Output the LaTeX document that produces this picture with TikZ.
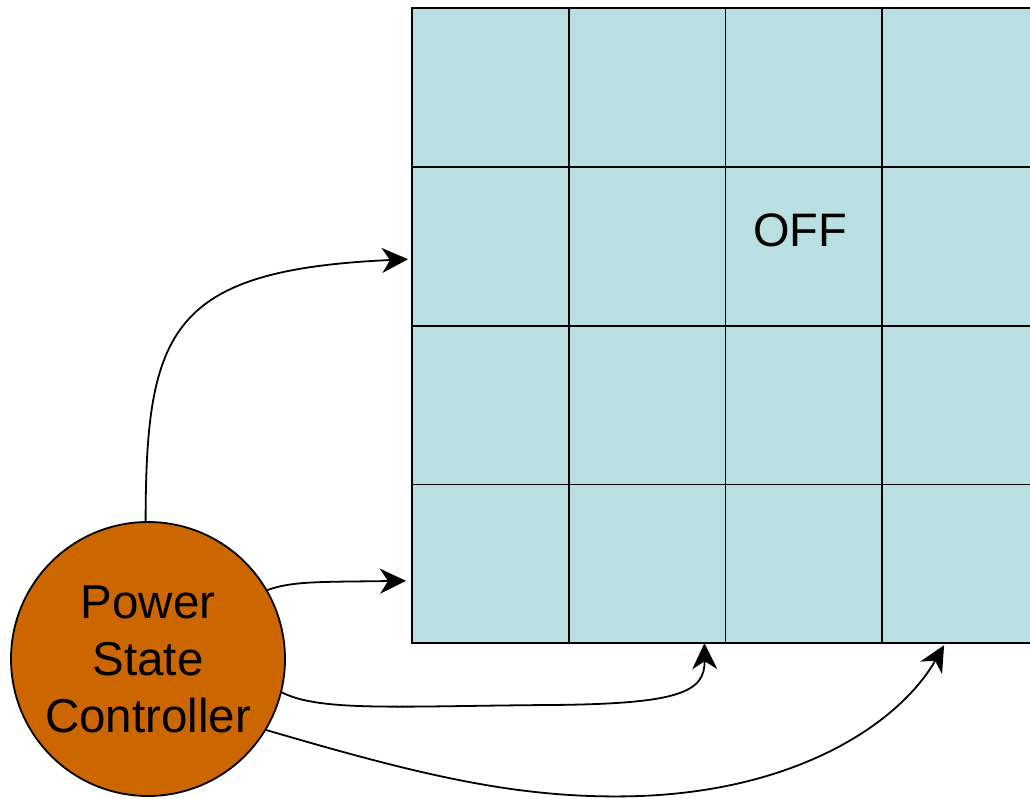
\documentclass[tikz,border=0pt]{standalone}
\usepackage{fontspec}
\setmainfont{Liberation Sans}
\usetikzlibrary{arrows.meta,calc}
\definecolor{cellfill}{HTML}{BADFE3}
\definecolor{ctrlfill}{HTML}{CC6600}
\begin{document}
\begin{tikzpicture}[x=1pt,y=-1pt,
  cell/.style={draw=black,fill=cellfill,line width=1.8pt,rectangle,
    inner sep=0pt,outer sep=0pt,minimum width=156.7pt,minimum height=158.8pt},
  ctrl/.style={draw=black,fill=ctrlfill,line width=1.8pt,circle,
    inner sep=0pt,minimum size=274pt,align=center,
    font=\fontsize{47.5}{57}\selectfont},
  link/.style={draw=black,line width=1.8pt,
    -{Stealth[length=26pt,width=25pt,inset=8pt]}}]
\useasboundingbox (0,0) rectangle (1030,798);
\clip (0,0) rectangle (1030,798);
\fill[white] (0,0) rectangle (1030,798);

% 4x4 array of power domains
\foreach \r in {0,...,3}{
  \foreach \c in {0,...,3}{
    \node[cell] (c\r\c) at ({412+156.7*\c+78.35},{8+158.8*\r+79.4}) {};
  }
}
\node[font=\fontsize{47}{55}\selectfont] (off) at (800,230) {OFF};

% controller
\node[ctrl] (pc) at (148,659) {Power\\State\\Controller};

% arrow end points on the array
\coordinate (t1) at ($(c10.west)+(-4,13)$);
\coordinate (t2) at ($(c30.west)+(-6,17)$);
\coordinate (t3) at ($(c32.south west)+(-21,0)$);
\coordinate (t4) at ($(c33.south west)+(62,2)$);

\draw[link] (pc.91) .. controls (146,330) and (170,270) .. (t1);
\draw[link] (pc.30) .. controls (292,581) and (320,582) .. (t2);
\draw[link] (pc.-14) .. controls (320,712) and (400,706) .. (550,705)
   .. controls (680,704) and (705,692) .. (t3);
\draw[link] (pc.-31) .. controls (420,775) and (520,800) .. (640,796)
   .. controls (800,790) and (900,722) .. (t4);
\end{tikzpicture}
\end{document}
